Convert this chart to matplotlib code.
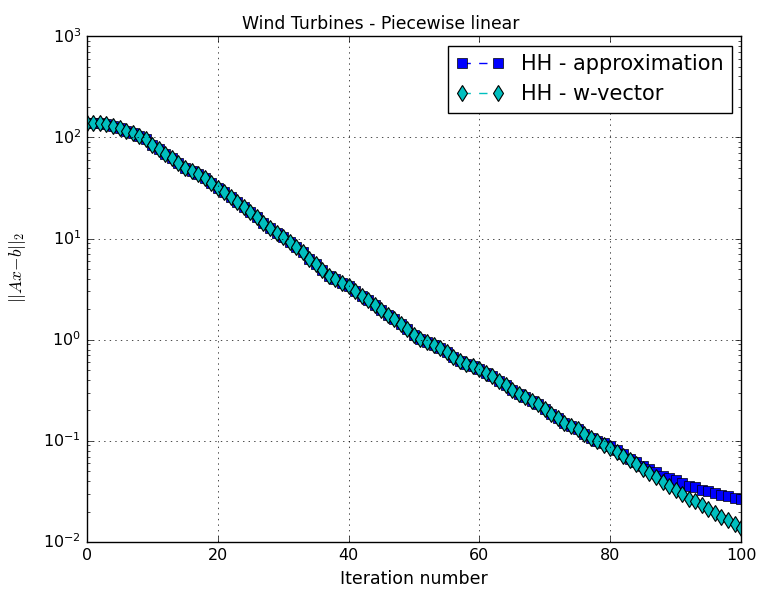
import matplotlib
matplotlib.use("Agg")
import matplotlib.pyplot as plt
import numpy as np

plt.style.use("classic")

iterations = list(range(0, 101))

# residual values shared by both methods (iterations 0..78)
common_head = [
    140, 140, 139, 136, 131, 125, 116, 110, 103, 96,
    85, 77, 69, 62, 56, 50, 46.6, 43, 39.7, 35.2,
    31.6, 28.6, 25.5, 23.0, 20.6, 18.2, 16.2, 14.1, 12.6, 11.4,
    10.3, 9.2, 8.3, 7.35, 6.3, 5.6, 4.9, 4.3, 3.95, 3.65,
    3.4, 3.05, 2.72, 2.46, 2.2, 1.95, 1.76, 1.59, 1.42, 1.29,
    1.12, 1.02, 0.95, 0.89, 0.82, 0.76, 0.68, 0.62, 0.57, 0.545,
    0.51, 0.47, 0.44, 0.39, 0.36, 0.32, 0.29, 0.27, 0.25, 0.23,
    0.206, 0.186, 0.17, 0.151, 0.14, 0.13, 0.118, 0.107, 0.1,
]
# iterations 79..100
approx_tail = [
    0.095, 0.088, 0.081, 0.074, 0.066, 0.0615, 0.057, 0.053, 0.049, 0.0454,
    0.043, 0.0407, 0.0384, 0.0361, 0.0346, 0.033, 0.0316, 0.0302, 0.029, 0.0282,
    0.0275, 0.0267,
]
wvec_tail = [
    0.092, 0.085, 0.077, 0.0716, 0.0644, 0.0584, 0.0529, 0.0483, 0.0437, 0.0393,
    0.0356, 0.033, 0.0299, 0.0267, 0.0253, 0.0234, 0.0213, 0.0194, 0.0177, 0.0164,
    0.0151, 0.0138,
]
hh_approx = common_head + approx_tail
hh_wvec = common_head + wvec_tail

fig = plt.figure(figsize=(7.62, 5.94), dpi=100)
ax_left, ax_width = 0.114, 0.8585
ax = fig.add_axes([ax_left, 0.0875, ax_width, 0.8515])

ax.semilogy(iterations, hh_approx, "s--", color="b", markerfacecolor="b",
            markeredgecolor="k", markersize=7, label="HH - approximation")
ax.semilogy(iterations, hh_wvec, "d--", color="c", markerfacecolor="c",
            markeredgecolor="k", markeredgewidth=0.8, markersize=8,
            label="HH - w-vector")

ax.set_xlim(0, 100)
ax.set_ylim(1e-2, 1e3)
ax.grid(True)
ax.tick_params(labelsize=11.5)
# title centred on the figure rather than the axes
ax.set_title("Wind Turbines - Piecewise linear", fontsize=12.4,
             x=(0.5 - ax_left) / ax_width)
ax.set_xlabel("Iteration number", fontsize=12.5)
ax.set_ylabel(r"$||Ax{-}b||_2$", fontsize=12.5)
ax.yaxis.set_label_coords(-0.09, 0.543)
ax.legend(loc="upper right", numpoints=2, fontsize=15, handlelength=2.3,
          borderaxespad=0.45)

fig.savefig("out.png", dpi=100)
